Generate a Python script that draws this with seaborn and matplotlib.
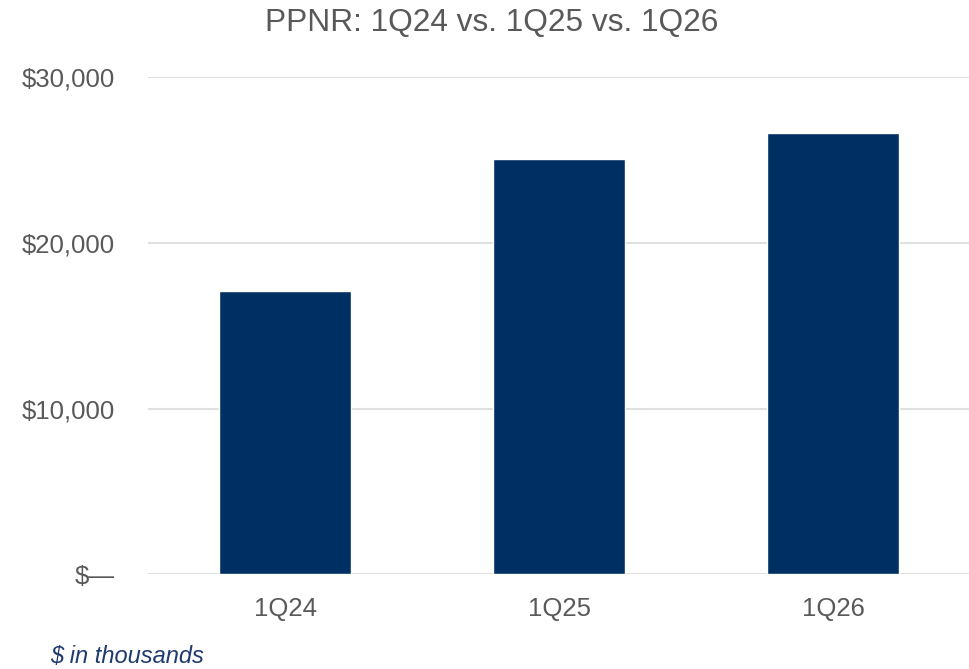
import matplotlib
matplotlib.use("Agg")
import matplotlib.pyplot as plt
import seaborn as sns
import pandas as pd
from matplotlib.ticker import FuncFormatter

# PPNR by quarter, $ in thousands
quarters = ["1Q24", "1Q25", "1Q26"]
ppnr = [17100, 25050, 26650]
y_ticks = [0, 10000, 20000, 30000]

sns.set_theme(style="white")
plt.rcParams["font.family"] = ["Liberation Sans", "DejaVu Sans"]

navy = "#003063"
text_gray = "#595959"
grid_gray = "#E0E0E0"

df = pd.DataFrame({"quarter": quarters, "ppnr": ppnr})

fig = plt.figure(figsize=(9.70, 6.69), dpi=100)
ax = fig.add_axes([0.1526, 0.1413, 0.8474, 0.7432])

sns.barplot(data=df, x="quarter", y="ppnr", color=navy, width=0.48,
            saturation=1, ax=ax, zorder=3)

ax.set_ylim(0, 30000)
ax.set_yticks(y_ticks)
ax.yaxis.set_major_formatter(
    FuncFormatter(lambda v, _: "$\u2014" if v == 0 else f"${v:,.0f}"))
ax.grid(axis="y", color=grid_gray, linewidth=1.5, zorder=0)
ax.grid(axis="x", visible=False)
for s in ax.spines.values():
    s.set_visible(False)

ax.tick_params(axis="y", length=0, pad=24, labelsize=18.5, labelcolor=text_gray)
ax.tick_params(axis="x", length=0, pad=16, labelsize=18.5, labelcolor=text_gray)
ax.set_xlabel("")
ax.set_ylabel("")

fig.text(0.507, 0.965, "PPNR: 1Q24 vs. 1Q25 vs. 1Q26", ha="center", va="center",
         fontsize=22.8, color=text_gray)
fig.text(0.052, 0.019, "$ in thousands", ha="left", va="center",
         fontsize=17, style="italic", color="#1F3A6E")

fig.savefig("out.png", dpi=100)
